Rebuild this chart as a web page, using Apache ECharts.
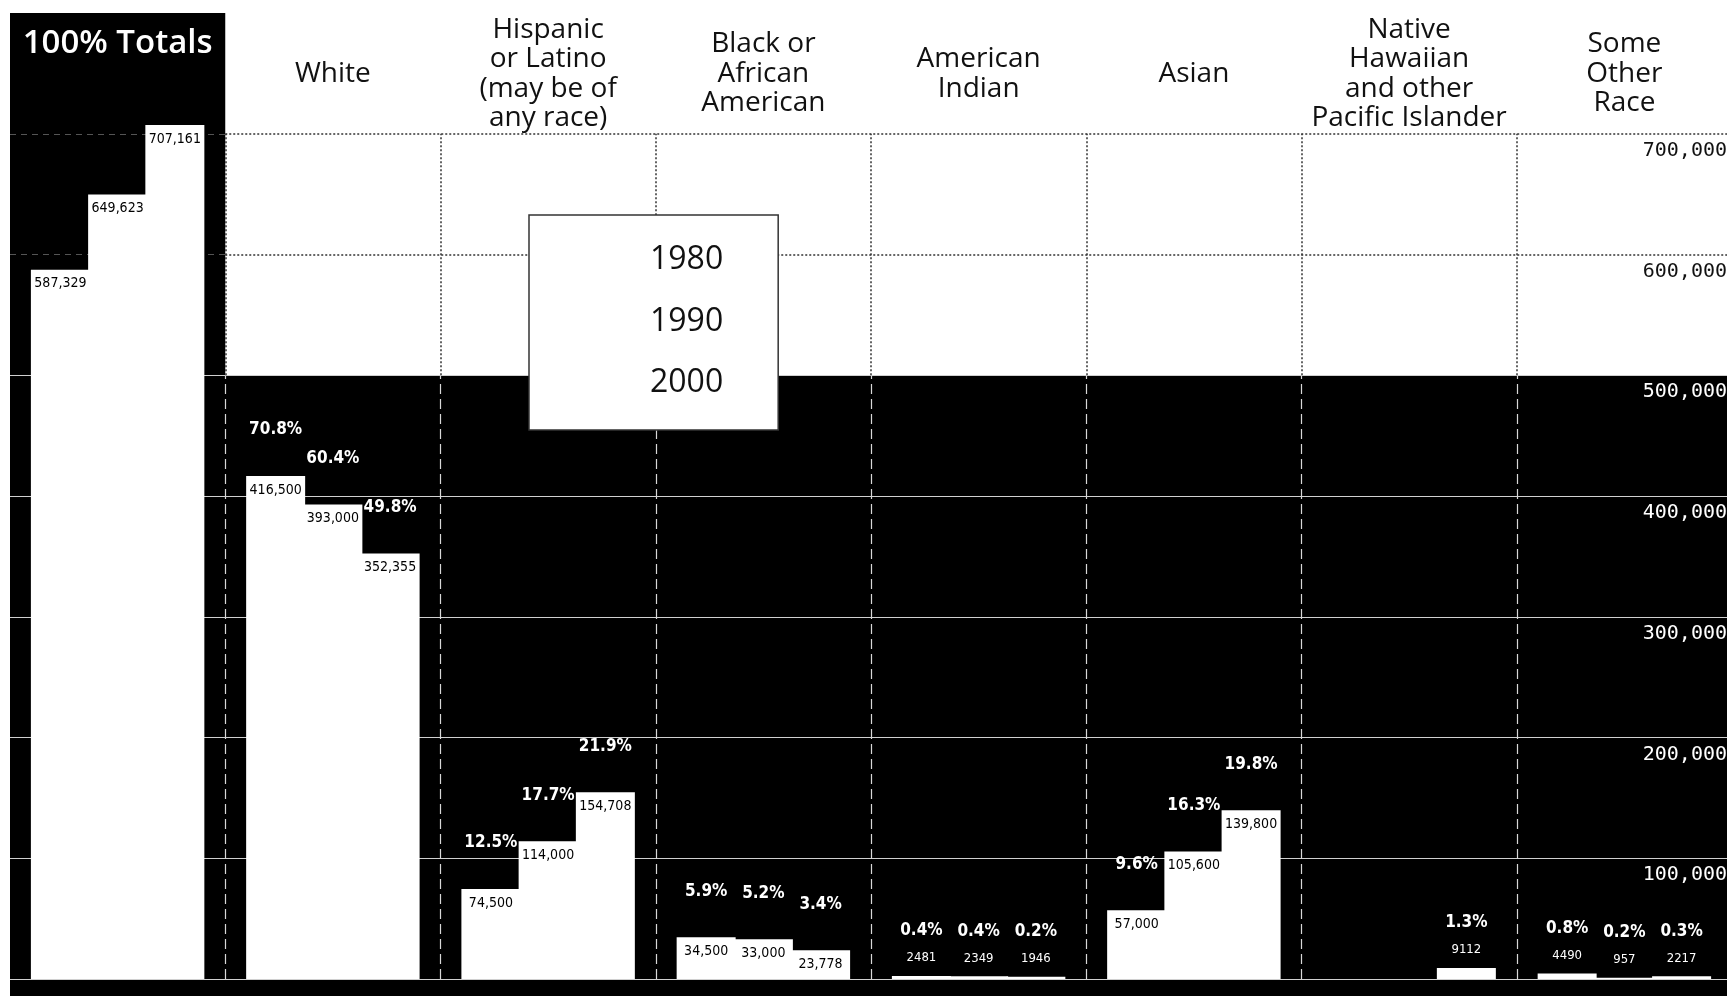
<!DOCTYPE html>
<html>
<head>
<meta charset="utf-8">
<script src="https://cdn.jsdelivr.net/npm/echarts@6/dist/echarts.min.js"></script>
<style>
html,body{margin:0;padding:0;background:#fff;width:1727px;height:996px;overflow:hidden;}
#c{position:absolute;left:10px;top:13px;width:1722px;height:983px;}
</style>
</head>
<body>
<div id="c"></div>
<script>
// ---------- data ----------
const categories = ['100% Totals', 'White', 'Hispanic\nor Latino\n(may be of\nany race)', 'Black or\nAfrican\nAmerican',
  'American\nIndian', 'Asian', 'Native\nHawaiian\nand other\nPacific Islander', 'Some\nOther\nRace'];
const years = ['1980', '1990', '2000'];
const counts1980 = [587329, 416500, 74500, 34500, 2481, 57000, null, 4490];
const counts1990 = [649623, 393000, 114000, 33000, 2349, 105600, null, 957];
const counts2000 = [707161, 352355, 154708, 23778, 1946, 139800, 9112, 2217];
const pct1980 = [null, '70.8%', '12.5%', '5.9%', '0.4%', '9.6%', null, '0.8%'];
const pct1990 = [null, '60.4%', '17.7%', '5.2%', '0.4%', '16.3%', null, '0.2%'];
const pct2000 = [null, '49.8%', '21.9%', '3.4%', '0.2%', '19.8%', '1.3%', '0.3%'];
const yMin = 0, yMax = 800000, yInterval = 100000;
const darkGridValues = [600000, 700000];
const lightGridValues = [0, 100000, 200000, 300000, 400000, 500000];
const panelSplit = 500000;   // white panel above this value
const topLineValue = 700000;

// ---------- helpers ----------
const COND = "'Liberation Sans Narrow','DejaVu Sans Condensed','Roboto Condensed',Roboto,sans-serif";
const fmt = v => v.toLocaleString('en-US');
const INSIDE_MIN = 15000;

function buildSeries(name, counts, pcts) {
  return {
    name: name,
    type: 'bar',
    xAxisIndex: 0, yAxisIndex: 0,
    barWidth: 59, barGap: '-3%',
    itemStyle: { color: '#fff' },
    z: 2,
    data: counts.map((c) => c == null ? '-' : {
      value: c,
      label: { offset: c >= INSIDE_MIN ? [0, 62] : [0, -3] }
    }),
    label: {
      show: true, position: 'top', distance: 0,
      formatter: (p) => {
        const c = counts[p.dataIndex], pc = pcts[p.dataIndex];
        if (c == null) return '';
        const cnt = c >= INSIDE_MIN ? '{ci|' + fmt(c) + '}' : '{co|' + c + '}';
        return pc ? '{p|' + pc + '}\n' + cnt : cnt;
      },
      rich: {
        p: { fontFamily: COND, fontWeight: 'bold', fontSize: 17, color: '#fff', lineHeight: 24 },
        ci: { fontFamily: COND, fontSize: 14, color: '#000', lineHeight: 96 },
        co: { fontFamily: COND, fontSize: 13, color: '#fff', lineHeight: 30 }
      }
    }
  };
}

// grid lines (decoration) built from tick values
const ncat = categories.length;
const lineData = [];
lightGridValues.forEach(v => lineData.push([{ coord: [0, v], lineStyle: { color: '#d0d0d0', width: 1.2, type: 'solid' } }, { coord: [ncat, v] }]));
darkGridValues.forEach(v => {
  lineData.push([{ coord: [0, v], lineStyle: { color: '#555', width: 1, type: [6, 5] } }, { coord: [1, v] }]);
  lineData.push([{ coord: [1, v], lineStyle: { color: '#333', width: 1.5, type: [2, 2] } }, { coord: [ncat, v] }]);
});
for (let k = 1; k < ncat; k++) {
  lineData.push([{ coord: [k, yMin], lineStyle: { color: '#d8d8d8', width: 1.2, type: [10, 5] } }, { coord: [k, panelSplit] }]);
  lineData.push([{ coord: [k, panelSplit], lineStyle: { color: '#333', width: 1.5, type: [2, 2] } }, { coord: [k, topLineValue] }]);
}

const chart = echarts.init(document.getElementById('c'), null, { renderer: 'canvas' });
chart.setOption({
  animation: false,
  backgroundColor: '#000',
  grid: { left: 0, right: 0, top: 0, bottom: 17, containLabel: false },
  legend: {
    data: years, orient: 'vertical', left: 519, top: 202,
    backgroundColor: '#fff', borderColor: '#333', borderWidth: 1.5,
    padding: [27, 55, 29, 56], itemWidth: 60, itemHeight: 30, itemGap: 25.5,
    icon: 'rect', selectedMode: false,
    textStyle: { fontFamily: 'Open Sans', fontSize: 32, color: '#111', lineHeight: 36 }
  },
  xAxis: [
    {
      type: 'category', data: categories, position: 'top', z: 6,
      axisLine: { show: false }, axisTick: { show: false }, splitLine: { show: false },
      axisLabel: {
        interval: 0, inside: true, margin: 61, verticalAlign: 'middle',
        color: '#111', fontFamily: 'Open Sans', fontSize: 28, lineHeight: 29.5,
        formatter: (v, i) => i === 0 ? '{t|' + v + '}\n{s| }' : v,
        rich: {
          t: { color: '#fff', fontFamily: 'Open Sans', fontWeight: 600, fontSize: 33, lineHeight: 38 },
          s: { fontSize: 10, lineHeight: 60 }
        }
      }
    },
    { type: 'value', min: 0, max: ncat, show: false, position: 'bottom' }
  ],
  yAxis: [{
    type: 'value', min: yMin, max: yMax, interval: yInterval, position: 'right', z: 6,
    axisLine: { show: false }, axisTick: { show: false }, splitLine: { show: false },
    axisLabel: {
      inside: true, margin: 5, verticalAlign: 'top', lineHeight: 34,
      fontFamily: "'DejaVu Sans Mono',monospace", fontSize: 20,
      color: (v) => Number(v) > panelSplit ? '#111' : '#fff',
      formatter: (v) => (v === yMin || v === yMax) ? '' : fmt(v)
    }
  }],
  series: [
    {
      type: 'line', xAxisIndex: 1, yAxisIndex: 0, data: [[0, 0]], symbol: 'none', silent: true,
      lineStyle: { width: 0, opacity: 0 }, z: 0,
      markArea: {
        silent: true, z: 0.5,
        itemStyle: { color: '#fff' },
        data: [[{ coord: [1, panelSplit] }, { coord: [ncat, yMax] }]]
      }
    },
    {
      type: 'line', xAxisIndex: 1, yAxisIndex: 0, data: [[0, 0]], symbol: 'none', silent: true,
      lineStyle: { width: 0, opacity: 0 }, z: 1,
      markLine: {
        silent: true, z: 1, symbol: ['none', 'none'], label: { show: false },
        data: lineData
      }
    },
    buildSeries(years[0], counts1980, pct1980),
    buildSeries(years[1], counts1990, pct1990),
    buildSeries(years[2], counts2000, pct2000)
  ]
});
</script>
</body>
</html>
